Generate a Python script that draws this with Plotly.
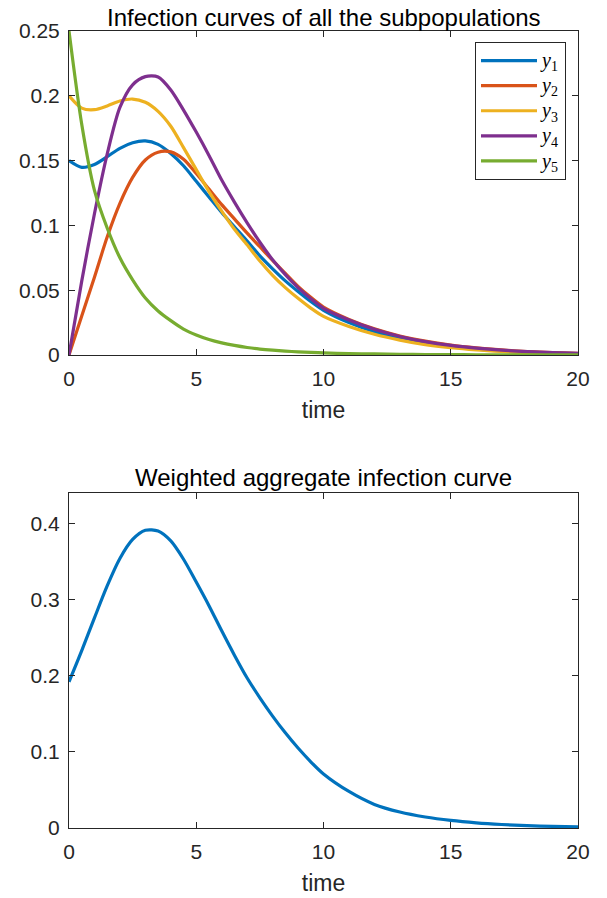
import plotly.graph_objects as go

# ---------------- data ----------------
time = [0, 0.5, 1, 1.5, 2, 2.5, 3, 3.5, 4, 4.5, 5, 5.5, 6, 6.5, 7, 7.5, 8, 8.5,
        9, 9.5, 10, 11, 12, 13, 14, 15, 16, 17, 18, 19, 20]

y1 = [0.150, 0.1448, 0.147, 0.153, 0.1595, 0.1638, 0.1652, 0.1625, 0.1555, 0.146,
      0.134, 0.122, 0.110, 0.099, 0.088, 0.0765, 0.0665, 0.0572, 0.0490, 0.0413,
      0.0345, 0.0250, 0.0180, 0.0130, 0.0093, 0.0066, 0.0046, 0.0032, 0.0022,
      0.0015, 0.0010]

y2 = [0.0, 0.030, 0.060, 0.091, 0.117, 0.137, 0.1505, 0.1565, 0.1567, 0.151,
      0.140, 0.128, 0.116, 0.105, 0.094, 0.0835, 0.0730, 0.0630, 0.0530, 0.0445,
      0.0370, 0.0275, 0.0202, 0.0147, 0.0107, 0.0077, 0.0055, 0.0039, 0.0027,
      0.0019, 0.0013]

y3 = [0.200, 0.1905, 0.1893, 0.1922, 0.1960, 0.1975, 0.1950, 0.1880, 0.1765, 0.160,
      0.143, 0.126, 0.111, 0.097, 0.085, 0.0725, 0.0615, 0.0520, 0.0437, 0.0362,
      0.0298, 0.0220, 0.0160, 0.0115, 0.0080, 0.0056, 0.0039, 0.0027, 0.0018,
      0.0012, 0.0008]

y4 = [0.0, 0.057, 0.109, 0.155, 0.191, 0.2085, 0.2148, 0.2145, 0.2045, 0.189,
      0.172, 0.154, 0.135, 0.118, 0.102, 0.087, 0.0735, 0.062, 0.052, 0.0435,
      0.0360, 0.0270, 0.0198, 0.0143, 0.0103, 0.0074, 0.0053, 0.0037, 0.0026,
      0.0018, 0.0012]

y5 = [0.250, 0.178, 0.127, 0.098, 0.075, 0.058, 0.044, 0.034, 0.0265, 0.020,
      0.0155, 0.012, 0.0094, 0.0074, 0.0058, 0.0046, 0.0037, 0.0030, 0.0024, 0.0020,
      0.0016, 0.0011, 0.0008, 0.0005, 0.0004, 0.0003, 0.0002, 0.00015, 0.0001,
      0.00008, 0.00005]

aggregate = [0.192, 0.233, 0.276, 0.318, 0.354, 0.379, 0.391, 0.390, 0.377, 0.353,
             0.323, 0.292, 0.259, 0.227, 0.197, 0.171, 0.147, 0.125, 0.105, 0.087,
             0.071, 0.048, 0.031, 0.021, 0.0145, 0.010, 0.0068, 0.0046, 0.0031,
             0.0021, 0.0014]

series_names = ["<i>y</i><sub>1</sub>", "<i>y</i><sub>2</sub>", "<i>y</i><sub>3</sub>",
                "<i>y</i><sub>4</sub>", "<i>y</i><sub>5</sub>"]
series_colors = ["#0072BD", "#D95319", "#EDB120", "#7E2F8E", "#77AC30"]

x_ticks = [0, 5, 10, 15, 20]
y_ticks_top = [0, 0.05, 0.1, 0.15, 0.2, 0.25]
y_ticklabels_top = ["0", "0.05", "0.1", "0.15", "0.2", "0.25"]
y_ticks_bottom = [0, 0.1, 0.2, 0.3, 0.4]
y_ticklabels_bottom = ["0", "0.1", "0.2", "0.3", "0.4"]

title_top = "Infection curves of all the subpopulations"
title_bottom = "Weighted aggregate infection curve"
x_label = "time"

# ---------------- figure ----------------
W, H = 607, 898
FONT = "Liberation Sans, Arial, Helvetica, sans-serif"
AX = "#262626"

fig = go.Figure()
for ys, nm, col in zip([y1, y2, y3, y4, y5], series_names, series_colors):
    fig.add_trace(go.Scatter(x=time, y=ys, mode="lines",
                             name='<span style="font-size:20px">' + nm + "</span>",
                             line=dict(color=col, width=3.2, shape="spline", smoothing=0.8),
                             xaxis="x", yaxis="y"))
fig.add_trace(go.Scatter(x=time, y=aggregate, mode="lines", showlegend=False,
                         line=dict(color=series_colors[0], width=3.2, shape="spline", smoothing=0.8),
                         xaxis="x2", yaxis="y2"))

xdom = [69 / W, 578 / W]
ydom_top = [1 - 355 / H, 1 - 31 / H]
ydom_bot = [1 - 828 / H, 1 - 493 / H]

common = dict(showline=True, linecolor=AX, linewidth=1, mirror="ticks",
              ticks="inside", ticklen=6, tickcolor=AX, tickwidth=1,
              showgrid=False, zeroline=False, automargin=False,
              tickfont=dict(family=FONT, size=21, color=AX))

xtitle = dict(text=x_label, font=dict(family=FONT, size=23, color=AX), standoff=12)

fig.update_layout(
    width=W, height=H,
    margin=dict(l=0, r=0, t=0, b=0, autoexpand=False),
    paper_bgcolor="white", plot_bgcolor="white",
    xaxis=dict(domain=xdom, range=[0, 20], tickvals=x_ticks, anchor="y",
               title=xtitle, ticklabelstandoff=5, **common),
    yaxis=dict(domain=ydom_top, range=[0, 0.25], tickvals=y_ticks_top,
               ticktext=y_ticklabels_top, anchor="x", ticklabelstandoff=4, **common),
    xaxis2=dict(domain=xdom, range=[0, 20], tickvals=x_ticks, anchor="y2",
                title=xtitle, ticklabelstandoff=5, **common),
    yaxis2=dict(domain=ydom_bot, range=[0, 0.44], tickvals=y_ticks_bottom,
                ticktext=y_ticklabels_bottom, anchor="x2", ticklabelstandoff=4, **common),
    legend=dict(x=566 / W, y=1 - 42 / H, xanchor="right", yanchor="top",
                bordercolor=AX, borderwidth=1, bgcolor="white",
                font=dict(family="Liberation Serif, Times New Roman, serif", size=17, color="black"),
                itemwidth=56, tracegroupgap=0),
    showlegend=True,
    annotations=[
        dict(text=title_top, x=(xdom[0] + xdom[1]) / 2, y=ydom_top[1], xref="paper", yref="paper",
             xanchor="center", yanchor="bottom", showarrow=False, yshift=-2,
             font=dict(family=FONT, size=24, color="black")),
        dict(text=title_bottom, x=(xdom[0] + xdom[1]) / 2, y=ydom_bot[1], xref="paper", yref="paper",
             xanchor="center", yanchor="bottom", showarrow=False, yshift=0,
             font=dict(family=FONT, size=24, color="black")),
    ],
)

fig.write_html("out.html", config={"displayModeBar": False},
               post_script="document.body.style.margin='0px';document.body.style.padding='0px';")
